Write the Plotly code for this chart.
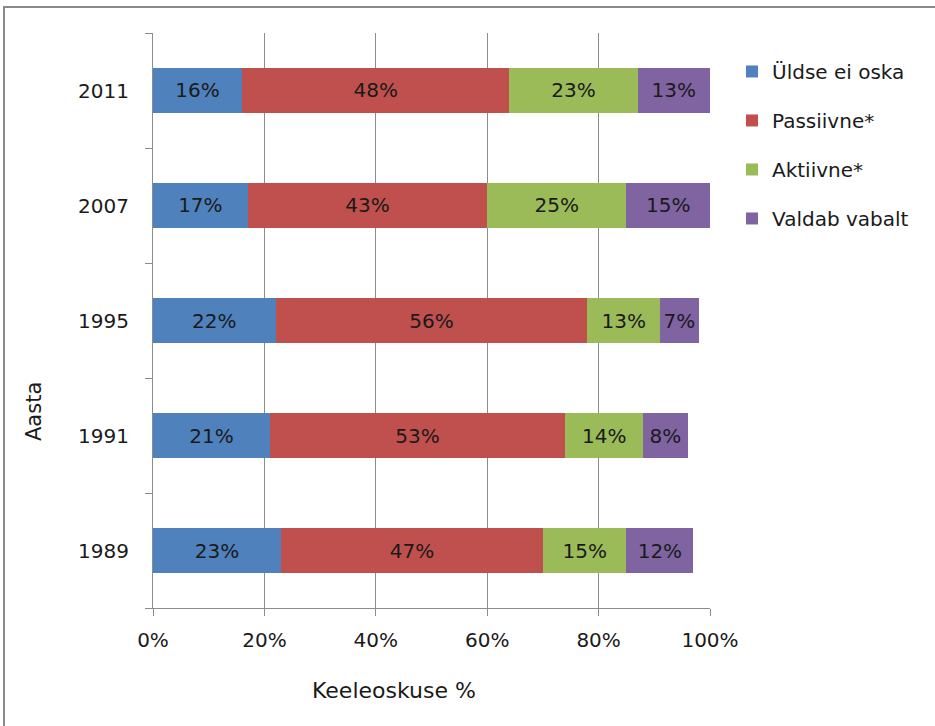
import plotly.graph_objects as go

years = ["1989", "1991", "1995", "2007", "2011"]
series_names = ["Üldse ei oska", "Passiivne*", "Aktiivne*", "Valdab vabalt"]
uldse = [23, 21, 22, 17, 16]
passiivne = [47, 53, 56, 43, 48]
aktiivne = [15, 14, 13, 25, 23]
valdab = [12, 8, 7, 15, 13]
colors = ["#4F81BD", "#C0504D", "#9BBB59", "#8064A2"]
x_ticks = [0, 20, 40, 60, 80, 100]
x_tick_labels = ["0%", "20%", "40%", "60%", "80%", "100%"]

FONT = "DejaVu Sans"
TXT = "#1a1a1a"
fig = go.Figure()
for i, (name, vals) in enumerate(zip(series_names, [uldse, passiivne, aktiivne, valdab])):
    fig.add_trace(go.Bar(
        y=years, x=vals, name=name, orientation="h",
        marker=dict(color=colors[i], line=dict(width=0)),
        text=[f"{v}%" for v in vals], textposition="inside",
        insidetextanchor="middle",
        textfont=dict(family=FONT, size=20, color=TXT),
        legendgroup=name,
        hoverinfo="skip",
    ))

fig.update_layout(
    width=935, height=726,
    margin=dict(l=153, r=225, t=33, b=118),
    barmode="stack", bargap=0.61,
    plot_bgcolor="white", paper_bgcolor="white",
    font=dict(family=FONT, size=20, color=TXT),
    showlegend=True,
    legend=dict(x=1.0395, y=0.967, xanchor="left", yanchor="top",
                traceorder="grouped", tracegroupgap=20,
                font=dict(family=FONT, size=20, color=TXT),
                itemwidth=30, bgcolor="rgba(0,0,0,0)"),
    uniformtext=dict(minsize=10, mode="show"),
)
fig.update_xaxes(range=[0, 100], tickvals=x_ticks, ticktext=x_tick_labels,
                 showgrid=True, gridcolor="#8c8c8c", gridwidth=1,
                 showline=True, linecolor="#8c8c8c", linewidth=1,
                 ticks="outside", ticklen=7, tickcolor="#8c8c8c",
                 tickfont=dict(family=FONT, size=20, color=TXT),
                 zeroline=False, ticklabelstandoff=7)
fig.update_yaxes(categoryorder="array", categoryarray=years,
                 showline=True, linecolor="#8c8c8c", linewidth=1,
                 ticks="outside", ticklen=7, tickcolor="#8c8c8c",
                 tickson="boundaries", showgrid=False,
                 tickfont=dict(family=FONT, size=20, color=TXT),
                 ticklabelstandoff=19)

fig.add_annotation(text="Aasta", xref="paper", yref="paper",
                   x=(34 - 153) / 557, y=(608 - 412) / 575, textangle=-90,
                   xanchor="center", yanchor="middle",
                   showarrow=False, font=dict(family=FONT, size=21, color=TXT))
fig.add_annotation(text="Keeleoskuse %", xref="paper", yref="paper",
                   x=(394 - 153) / 557, y=(608 - 690) / 575,
                   xanchor="center", yanchor="middle",
                   showarrow=False, font=dict(family=FONT, size=22, color=TXT))

fig.add_shape(type="rect", xref="paper", yref="paper",
              x0=(4 - 153) / 557, x1=(945 - 153) / 557,
              y0=(608 - 740) / 575, y1=1 + 26 / 575,
              line=dict(color="#8a8a8a", width=2), layer="below")

fig.write_html("out.html", config={"displayModeBar": False},
               post_script="document.body.style.margin='0px';")
